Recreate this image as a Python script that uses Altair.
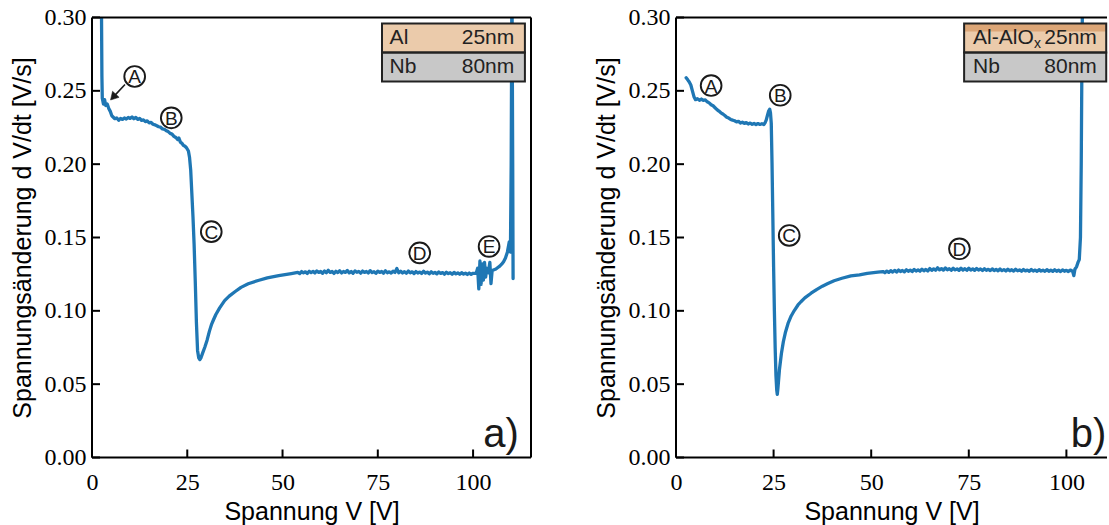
import altair as alt
import pandas as pd

# ---------------- data ----------------
# Panel a) Al 25nm / Nb 80nm  -- rising edge, knee and dip
al_v_head = [2.4, 2.5, 2.6, 2.7, 3.0, 3.3, 3.6, 4.0, 4.4, 4.8, 5.2, 5.6, 6.0, 6.5, 7.0, 7.5, 8.0,
             8.5, 9.0, 9.5, 10.0, 10.5, 11.0, 11.5, 12.0, 12.5, 13.0, 13.5, 14.0, 14.5, 15.0,
             15.5, 16.0, 16.5, 17.0, 17.5, 18.0, 18.5, 19.0, 19.5, 20.0, 20.5, 21.0, 21.5, 22.0,
             22.5, 22.8, 23.2, 23.6, 24.0, 24.4, 24.8, 25.3, 25.6, 25.9, 26.2, 26.5, 26.8, 27.1,
             27.4, 27.7, 28.0, 28.3, 28.6, 29.0, 29.6, 30.2, 30.8, 31.4, 31.8, 32.5, 33.5, 34.8,
             36.0, 37.5, 39.1, 41.0, 43.6, 46.0, 49.0, 52.3]
al_r_head = [0.3300, 0.3000, 0.2600, 0.2450, 0.2410, 0.2440, 0.2400, 0.2410, 0.2380, 0.2360,
             0.2330, 0.2320, 0.2310, 0.2315, 0.2300, 0.2312, 0.2305, 0.2315, 0.2308, 0.2318,
             0.2312, 0.2322, 0.2310, 0.2318, 0.2305, 0.2312, 0.2298, 0.2302, 0.2290, 0.2295,
             0.2282, 0.2285, 0.2272, 0.2268, 0.2262, 0.2255, 0.2252, 0.2240, 0.2238, 0.2228,
             0.2222, 0.2210, 0.2205, 0.2190, 0.2182, 0.2168, 0.2178, 0.2150, 0.2142, 0.2128,
             0.2122, 0.2112, 0.2090, 0.2045, 0.1960, 0.1800, 0.1640, 0.1450, 0.1200, 0.0920,
             0.0730, 0.0680, 0.0668, 0.0680, 0.0710, 0.0752, 0.0800, 0.0860, 0.0910, 0.0934,
             0.0975, 0.1020, 0.1070, 0.1100, 0.1130, 0.1160, 0.1185, 0.1207, 0.1225, 0.1240,
             0.1254]
# plateau, sampled every 0.5 V from 54 V to 100 V
al_v_flat = [54.0 + 0.5 * k for k in range(93)]
al_r_flat = [0.1262, 0.1254, 0.1268, 0.1259, 0.1266, 0.1255, 0.1270, 0.1261, 0.1269, 0.1258,
             0.1272, 0.1262, 0.1268, 0.1256, 0.1271, 0.1260, 0.1276, 0.1262, 0.1268, 0.1255,
             0.1270, 0.1261, 0.1273, 0.1258, 0.1268, 0.1262, 0.1275, 0.1259, 0.1268, 0.1256,
             0.1272, 0.1263, 0.1269, 0.1257, 0.1271, 0.1262, 0.1268, 0.1258, 0.1274, 0.1261,
             0.1267, 0.1256, 0.1270, 0.1262, 0.1268, 0.1257, 0.1273, 0.1260, 0.1266, 0.1258,
             0.1270, 0.1262, 0.1288, 0.1260, 0.1270, 0.1258, 0.1267, 0.1256, 0.1271, 0.1259,
             0.1266, 0.1254, 0.1268, 0.1258, 0.1264, 0.1255, 0.1270, 0.1257, 0.1264, 0.1253,
             0.1266, 0.1256, 0.1262, 0.1252, 0.1265, 0.1255, 0.1261, 0.1250, 0.1263, 0.1254,
             0.1260, 0.1250, 0.1262, 0.1252, 0.1259, 0.1249, 0.1260, 0.1251, 0.1257, 0.1248,
             0.1258, 0.1249, 0.1256]
# spiky region (E) and breakdown
al_v_tail = [100.8, 101.2, 101.5, 101.8, 102.1, 102.4, 102.7, 103.0, 103.3, 103.6, 104.0, 104.4,
             104.7, 105.0, 105.5, 106.0, 106.5, 107.0, 107.5, 108.0, 108.5, 109.0, 109.5, 109.8,
             110.0, 110.2, 110.4, 110.5]
al_r_tail = [0.1255, 0.1290, 0.1150, 0.1340, 0.1180, 0.1320, 0.1210, 0.1330, 0.1230, 0.1290,
             0.1260, 0.1330, 0.1185, 0.1275, 0.1280, 0.1285, 0.1295, 0.1305, 0.1318, 0.1335,
             0.1360, 0.1400, 0.1470, 0.1400, 0.2000, 0.3300, 0.2000, 0.1220]

# Panel b) Al-AlOx 25nm / Nb 80nm
ox_v_head = [2.6, 3.0, 3.4, 3.8, 4.2, 4.6, 5.0, 5.5, 6.0, 6.5, 7.0, 7.5, 8.0, 8.5, 9.0, 9.5,
             10.0, 10.5, 11.0, 11.5, 12.0, 12.5, 13.0, 13.5, 14.0, 14.5, 15.0, 15.5, 16.0, 16.5,
             17.0, 17.5, 18.0, 18.5, 19.0, 19.5, 20.0, 20.5, 21.0, 21.5, 22.0, 22.5, 22.8, 23.1,
             23.4, 23.7, 24.0, 24.2, 24.4, 24.6, 24.8, 25.0, 25.2, 25.4, 25.6, 25.8, 25.95, 26.1,
             26.5, 27.0, 27.5, 28.0, 28.7, 29.5, 30.3, 31.25, 32.0, 33.0, 34.6, 36.0, 37.5, 38.9,
             40.5, 42.5, 44.8, 47.0, 49.0, 51.7]
ox_r_head = [0.2589, 0.2575, 0.2560, 0.2540, 0.2500, 0.2460, 0.2440, 0.2446, 0.2436, 0.2444,
             0.2435, 0.2438, 0.2425, 0.2418, 0.2405, 0.2398, 0.2385, 0.2372, 0.2362, 0.2350,
             0.2342, 0.2332, 0.2320, 0.2314, 0.2305, 0.2300, 0.2296, 0.2288, 0.2292, 0.2280,
             0.2286, 0.2278, 0.2283, 0.2274, 0.2280, 0.2272, 0.2278, 0.2270, 0.2277, 0.2271,
             0.2276, 0.2270, 0.2282, 0.2300, 0.2330, 0.2360, 0.2375, 0.2350, 0.2280, 0.2000,
             0.1650, 0.1300, 0.1000, 0.0750, 0.0560, 0.0460, 0.0430, 0.0470, 0.0600, 0.0709,
             0.0790, 0.0850, 0.0914, 0.0965, 0.1002, 0.1040, 0.1062, 0.1088, 0.1120, 0.1145,
             0.1168, 0.1186, 0.1205, 0.1222, 0.1238, 0.1245, 0.1256, 0.1264]
# plateau, sampled every 0.5 V from 53 V to 101 V
ox_v_flat = [53.0 + 0.5 * k for k in range(97)]
ox_r_flat = [0.1268, 0.1260, 0.1271, 0.1262, 0.1274, 0.1264, 0.1276, 0.1265, 0.1278, 0.1268,
             0.1275, 0.1266, 0.1280, 0.1270, 0.1278, 0.1268, 0.1282, 0.1271, 0.1279, 0.1270,
             0.1284, 0.1273, 0.1282, 0.1272, 0.1288, 0.1276, 0.1286, 0.1277, 0.1293, 0.1279,
             0.1288, 0.1278, 0.1292, 0.1280, 0.1287, 0.1277, 0.1290, 0.1279, 0.1286, 0.1276,
             0.1291, 0.1278, 0.1287, 0.1277, 0.1290, 0.1278, 0.1286, 0.1276, 0.1289, 0.1278,
             0.1285, 0.1275, 0.1287, 0.1276, 0.1283, 0.1274, 0.1286, 0.1275, 0.1282, 0.1273,
             0.1285, 0.1274, 0.1281, 0.1272, 0.1284, 0.1273, 0.1280, 0.1271, 0.1283, 0.1273,
             0.1279, 0.1270, 0.1282, 0.1272, 0.1278, 0.1270, 0.1282, 0.1271, 0.1278, 0.1269,
             0.1281, 0.1271, 0.1277, 0.1269, 0.1281, 0.1270, 0.1277, 0.1269, 0.1280, 0.1270,
             0.1277, 0.1268, 0.1279, 0.1270, 0.1276, 0.1268, 0.1278]
ox_v_tail = [101.6, 101.9, 102.2, 102.6, 103.0, 103.3, 103.6, 103.8, 104.0, 104.2]
ox_r_tail = [0.1270, 0.1240, 0.1285, 0.1300, 0.1332, 0.1350, 0.1500, 0.2000, 0.2800, 0.3300]

# annotation letters (position in data units)
a_letters = ["A", "B", "C", "D", "E"]
a_letter_v = [11.2, 20.8, 31.3, 86.0, 104.2]
a_letter_r = [0.2598, 0.2316, 0.1540, 0.1395, 0.1439]
b_letters = ["A", "B", "C", "D"]
b_letter_v = [9.0, 26.7, 29.0, 72.6]
b_letter_r = [0.2536, 0.2470, 0.1514, 0.1423]

x_ticks = [0, 25, 50, 75, 100]
y_ticks = [0.00, 0.05, 0.10, 0.15, 0.20, 0.25, 0.30]

BLUE = "#1f77b4"
PEACH = "#ebcbab"
OXIDE = "#dca677"
GREY = "#c8c8c8"
INK = "#1a1a1a"

PLOT_H = 440
Y_MAX = 0.30


def panel(v, r, xmax, width, letters, lv, lr, tag, tag_v, legend, right_spine, arrow):
    px_per_unit = width / xmax
    xs = alt.Scale(domain=[0, xmax], nice=False, zero=False)
    ys = alt.Scale(domain=[0, Y_MAX], nice=False, zero=False)
    xaxis = alt.Axis(values=x_ticks, format="d", title="Spannung V [V]", grid=False, domain=False,
                     ticks=False, tickSize=0, labelFont="Liberation Serif", labelFontSize=24,
                     labelColor="black", labelPadding=13, labelFlush=False, labelOverlap=False,
                     titleFont="Liberation Sans", titleFontSize=25, titleFontWeight="normal",
                     titleColor="black", titlePadding=5)
    yaxis = alt.Axis(values=y_ticks, format=".2f", title="Spannungsänderung d V/dt [V/s]",
                     grid=False, domain=False, ticks=False, tickSize=0,
                     labelFont="Liberation Serif", labelFontSize=24, labelColor="black",
                     labelPadding=6, labelFlush=False, labelOverlap=False,
                     titleFont="Liberation Sans", titleFontSize=25, titleFontWeight="normal",
                     titleColor="black", titlePadding=9)

    def X(f="V"):
        return alt.X(f + ":Q", scale=xs, axis=xaxis)

    def Y(f="R"):
        return alt.Y(f + ":Q", scale=ys, axis=yaxis)

    df = pd.DataFrame({"V": v, "R": r, "i": list(range(len(v)))})
    line = alt.Chart(df).mark_line(color=BLUE, strokeWidth=3.3, clip=True,
                                   strokeJoin="round", strokeCap="round").encode(
        x=X(), y=Y(), order="i:Q")

    # frame (spines) and inward ticks
    sp = [(0, 0, 0, Y_MAX), (0, xmax, 0, 0), (0, xmax, Y_MAX, Y_MAX)]
    if right_spine:
        sp.append((xmax, xmax, 0, Y_MAX))
    tick_len_x = 8 / px_per_unit
    tick_len_y = 8 * Y_MAX / PLOT_H
    for t in x_ticks:
        sp.append((t, t, 0, tick_len_y))
    for t in y_ticks:
        sp.append((0, tick_len_x, t, t))
    sdf = pd.DataFrame(sp, columns=["V", "V2", "R", "R2"])
    frame = alt.Chart(sdf).mark_rule(color="black", strokeWidth=2).encode(
        x=X(), x2="V2:Q", y=Y(), y2="R2:Q")

    # circled letters
    ldf = pd.DataFrame({"V": lv, "R": lr, "L": letters})
    circles = alt.Chart(ldf).mark_point(shape="circle", size=430, fill="white", stroke=INK,
                                        strokeWidth=1.9, opacity=1, filled=True).encode(
        x=X(), y=Y())
    ltext = alt.Chart(ldf).mark_text(font="Liberation Sans", fontSize=19, color=INK,
                                     baseline="middle", align="center", dy=1).encode(
        x=X(), y=Y(), text="L:N")

    # panel tag
    tdf = pd.DataFrame({"V": [tag_v], "R": [0.0075], "T": [tag]})
    tagt = alt.Chart(tdf).mark_text(font="Liberation Sans", fontSize=40, color=INK,
                                    align="right", baseline="alphabetic").encode(
        x=X(), y=Y(), text="T:N")

    # legend boxes
    fills = pd.DataFrame(legend["fills"], columns=["V", "V2", "R", "R2", "c"])
    lfill = alt.Chart(fills).mark_rect(strokeWidth=0).encode(
        x=X(), x2="V2:Q", y=Y(), y2="R2:Q", fill=alt.Fill("c:N", scale=None))
    outl = pd.DataFrame(legend["rows"], columns=["V", "V2", "R", "R2"])
    lout = alt.Chart(outl).mark_rect(fillOpacity=0, stroke="#222222", strokeWidth=2).encode(
        x=X(), x2="V2:Q", y=Y(), y2="R2:Q")
    ltl = pd.DataFrame(legend["left"], columns=["V", "R", "T", "s"])
    leg_left = alt.Chart(ltl[ltl.s == 21]).mark_text(
        font="Liberation Sans", fontSize=21, color="#222222", align="left",
        baseline="middle").encode(x=X(), y=Y(), text="T:N")
    leg_sub = alt.Chart(ltl[ltl.s != 21]).mark_text(
        font="Liberation Sans", fontSize=14, color="#222222", align="left",
        baseline="middle", dy=6).encode(x=X(), y=Y(), text="T:N")
    ltr = pd.DataFrame(legend["right"], columns=["V", "R", "T"])
    leg_right = alt.Chart(ltr).mark_text(font="Liberation Sans", fontSize=21, color="#222222",
                                         align="right", baseline="middle").encode(
        x=X(), y=Y(), text="T:N")

    layers = [line, frame, lfill, lout, leg_left, leg_sub, leg_right, circles, ltext, tagt]
    if arrow is not None:
        adf = pd.DataFrame([arrow[:4]], columns=["V", "R", "V2", "R2"])
        arr = alt.Chart(adf).mark_rule(color=INK, strokeWidth=1.6).encode(
            x=X(), y=Y(), x2="V2:Q", y2="R2:Q")
        hdf = pd.DataFrame({"V": [arrow[4]], "R": [arrow[5]]})
        head = alt.Chart(hdf).mark_point(shape="triangle-up", size=80, filled=True, fill=INK,
                                         stroke=INK, strokeWidth=0.5, opacity=1,
                                         angle=223).encode(x=X(), y=Y())
        layers += [arr, head]
    return alt.layer(*layers).properties(width=width, height=PLOT_H)


# legend geometry in data units
legend_a = {
    "fills": [(76.1, 113.6, 0.2959, 0.2761, PEACH), (76.1, 113.6, 0.2761, 0.2563, GREY)],
    "rows": [(76.1, 113.6, 0.2959, 0.2761), (76.1, 113.6, 0.2761, 0.2563)],
    "left": [(78.1, 0.2862, "Al", 21), (78.1, 0.2664, "Nb", 21)],
    "right": [(110.8, 0.2862, "25nm"), (110.8, 0.2664, "80nm")],
}
legend_b = {
    "fills": [(73.8, 110.2, 0.2959, 0.2761, PEACH), (73.8, 110.2, 0.2959, 0.2905, OXIDE),
              (73.8, 110.2, 0.2761, 0.2563, GREY)],
    "rows": [(73.8, 110.2, 0.2959, 0.2761), (73.8, 110.2, 0.2761, 0.2563)],
    "left": [(76.1, 0.2862, "Al-AlO", 21), (91.7, 0.2862, "x", 14),
             (76.1, 0.2664, "Nb", 21)],
    "right": [(107.8, 0.2862, "25nm"), (107.8, 0.2664, "80nm")],
}

al_v = al_v_head + al_v_flat + al_v_tail
al_r = al_r_head + al_r_flat + al_r_tail
ox_v = ox_v_head + ox_v_flat + ox_v_tail
ox_r = ox_r_head + ox_r_flat + ox_r_tail

left = panel(al_v, al_r, 115.2, 439, a_letters, a_letter_v, a_letter_r, "a)", 112.0,
             legend_a, True, (8.66, 0.2543, 5.56, 0.2457, 5.56, 0.2457))
right = panel(ox_v, ox_r, 110.4, 431, b_letters, b_letter_v, b_letter_r, "b)", 110.2,
              legend_b, False, None)

chart = alt.hconcat(left, right, spacing=145, bounds="flush").configure_view(
    stroke=None).properties(
    padding={"left": 10, "top": 5.5, "right": 0, "bottom": 0}, background="white")

chart.save("out.html", embed_options={"renderer": "svg", "actions": False})
